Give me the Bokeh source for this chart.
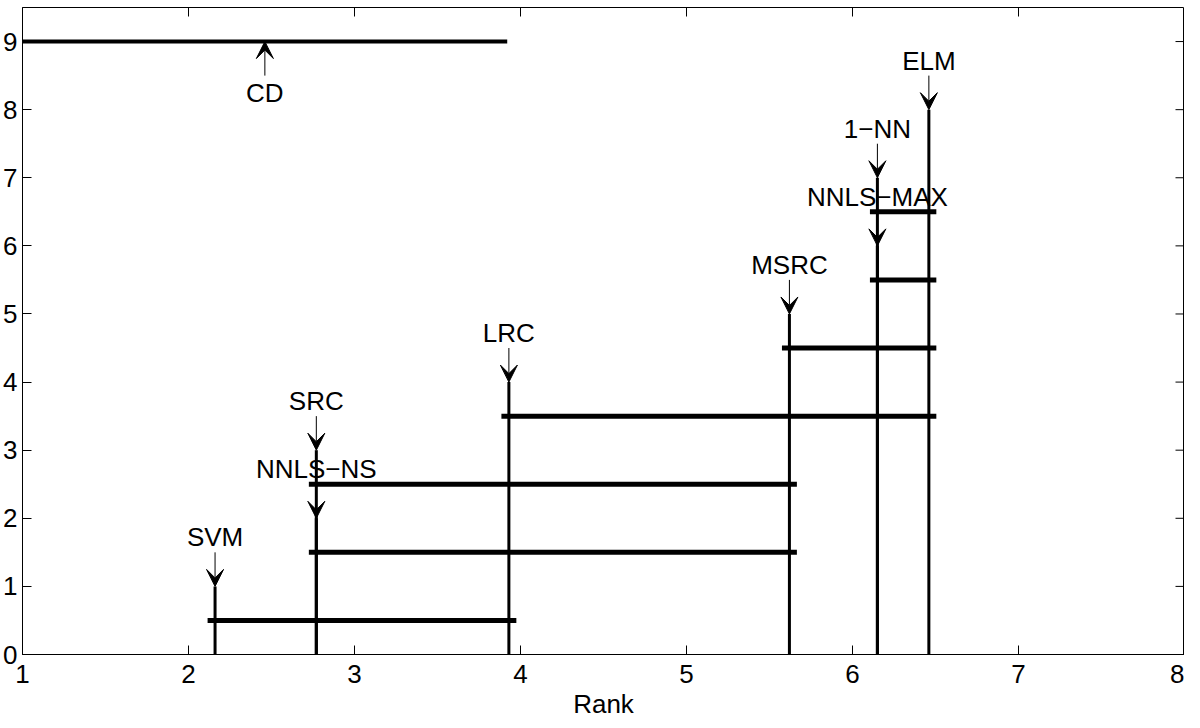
import math
from bokeh.plotting import figure
from bokeh.models import Range1d, Arrow, VeeHead, ColumnDataSource, FixedTicker
from bokeh.core.properties import value
from bokeh.embed import file_html
from bokeh.resources import INLINE

# ---- data ----
methods = ["SVM", "NNLS−NS", "SRC", "LRC", "MSRC", "NNLS−MAX", "1−NN", "ELM"]
ranks = [2.16, 2.77, 2.77, 3.93, 5.62, 6.15, 6.15, 6.46]
heights = [1, 2, 3, 4, 5, 6, 7, 8]
group_lo = ["SVM", "NNLS−NS", "SRC", "LRC", "MSRC", "NNLS−MAX", "1−NN"]
group_hi = ["LRC", "MSRC", "MSRC", "ELM", "ELM", "ELM", "ELM"]
group_y = [0.5, 1.5, 2.5, 3.5, 4.5, 5.5, 6.5]
cd_start = 1.0
cd_value = 2.92
cd_y = 9
x_ticks = [1, 2, 3, 4, 5, 6, 7, 8]
y_ticks = [0, 1, 2, 3, 4, 5, 6, 7, 8, 9]
x_min, x_max = 1, 8
y_min, y_max = 0, 9.5

FONT = "Liberation Sans"
FS = "26px"
EXT = 0.045

p = figure(width=1184, height=721, x_range=Range1d(x_min, x_max), y_range=Range1d(y_min, y_max),
           output_backend="svg", toolbar_location=None, min_border=0,
           min_border_top=7, min_border_right=0)
p.grid.visible = False
p.outline_line_color = "black"
p.outline_line_width = 1
p.background_fill_color = "white"
p.border_fill_color = "white"

for ax, ticks in ((p.xaxis[0], x_ticks), (p.yaxis[0], y_ticks)):
    ax.ticker = FixedTicker(ticks=ticks)
    ax.major_tick_in = 9
    ax.major_tick_out = 0
    ax.minor_tick_line_color = None
    ax.axis_line_color = "black"
    ax.major_tick_line_color = "black"
    ax.major_label_text_font = FONT
    ax.major_label_text_color = "black"
    ax.major_label_text_font_size = FS
p.xaxis[0].major_label_standoff = 10
p.yaxis[0].major_label_standoff = 5
p.xaxis[0].axis_label = "Rank"
p.xaxis[0].axis_label_text_font = FONT
p.xaxis[0].axis_label_text_font_size = FS
p.xaxis[0].axis_label_text_font_style = "normal"
p.xaxis[0].axis_label_text_color = "black"
p.xaxis[0].axis_label_standoff = 3

# mirrored inward ticks on top and right edges
p.ray(x=x_ticks, y=[y_max] * len(x_ticks), length=9, length_units="screen",
      angle=-math.pi / 2, line_color="black", line_width=1)
p.ray(x=[x_max] * len(y_ticks), y=y_ticks, length=9, length_units="screen",
      angle=math.pi, line_color="black", line_width=1)

rank_of = dict(zip(methods, ranks))

# vertical lines from axis to each method
p.segment(x0=ranks, y0=[0] * len(ranks), x1=ranks, y1=heights, line_color="black", line_width=3)

# clique bars
gx0 = [rank_of[m] - EXT for m in group_lo]
gx1 = [rank_of[m] + EXT for m in group_hi]
p.segment(x0=gx0, y0=group_y, x1=gx1, y1=group_y, line_color="black", line_width=5)

# CD bar
p.segment(x0=[cd_start], y0=[cd_y], x1=[cd_start + cd_value], y1=[cd_y], line_color="black", line_width=4)
cd_mid = cd_start + cd_value / 2
p.add_layout(Arrow(end=VeeHead(size=17, fill_color="black", line_color="black", line_width=1),
                   x_start=cd_mid, y_start=cd_y - 0.5, x_end=cd_mid, y_end=cd_y,
                   line_color="black", line_width=1))
p.text(x=[cd_mid], y=[cd_y - 0.75], text=["CD"], text_align="center", text_baseline="middle",
       text_font=value(FONT), text_font_size=FS, text_color="black")

# method arrows + labels
src = ColumnDataSource(dict(x=ranks, ys=[h + 0.5 for h in heights], ye=heights,
                            ly=[h + 0.72 for h in heights], name=methods))
p.add_layout(Arrow(end=VeeHead(size=17, fill_color="black", line_color="black", line_width=1),
                   x_start="x", y_start="ys", x_end="x", y_end="ye", source=src,
                   line_color="black", line_width=1))
p.text(x="x", y="ly", text="name", source=src, text_align="center", text_baseline="middle",
       text_font=value(FONT), text_font_size=FS, text_color="black")

open("out.html", "w").write(file_html(p, INLINE))
